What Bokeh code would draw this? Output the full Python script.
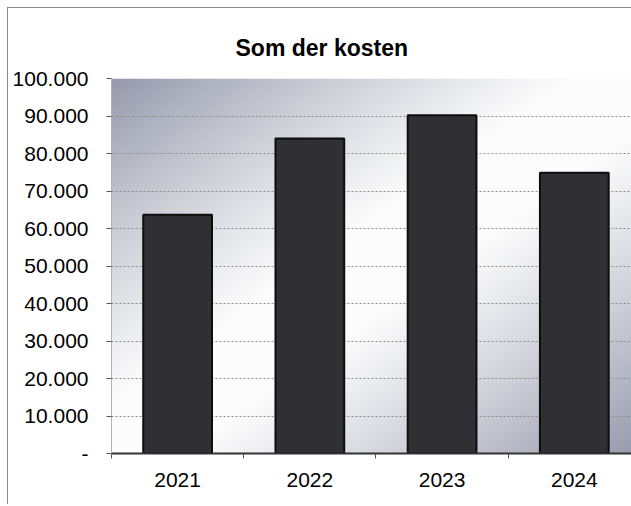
import numpy as np
from bokeh.plotting import figure
from bokeh.models import (Range1d, FixedTicker, LinearAxis, Title, ColumnDataSource, Grid)
from bokeh.embed import file_html
from bokeh.resources import INLINE

# ---- data ----
years = ["2021", "2022", "2023", "2024"]
costs = [63700, 84000, 90200, 74900]
y_ticks = [0, 10000, 20000, 30000, 40000, 50000, 60000, 70000, 80000, 90000, 100000]
y_labels = ["-", "10.000", "20.000", "30.000", "40.000", "50.000",
            "60.000", "70.000", "80.000", "90.000", "100.000"]
title_text = "Som der kosten"

FONT = "Liberation Sans"

ncat = len(years)
centers = [i + 0.5 for i in range(ncat)]
bounds = list(range(ncat + 1))
ymax = y_ticks[-1]

# the original chart is cut off slightly at the right edge
p = figure(width=624, height=497, x_range=Range1d(0, ncat - 0.06),
           y_range=Range1d(0, ymax), output_backend="svg",
           toolbar_location=None, x_axis_location=None, y_axis_location=None,
           min_border_left=103, min_border_right=0, min_border_top=70,
           min_border_bottom=52)
p.grid.visible = False
p.background_fill_color = "white"
p.border_fill_color = "white"
p.outline_line_color = None
p.styles = {"border-left": "1px solid #8a8a8a", "border-top": "1px solid #8a8a8a",
            "box-sizing": "border-box", "margin-left": "7px", "margin-top": "7px"}

# gradient background (styling only)
n = 160
gx, gy = np.meshgrid(np.linspace(0, 1, n), np.linspace(0, 1, n))
t = (gx + (1 - gy)) / 2.0          # 0 top-left -> 1 bottom-right
w = 1 - np.abs(2 * t - 1) ** 1.2
w = np.clip(w * 1.1, 0, 1)
c0 = np.array([150, 154, 172])
rgb = c0[None, None, :] * (1 - w[..., None]) + 252 * w[..., None]
img = np.zeros((n, n), dtype=np.uint32)
view = img.view(dtype=np.uint8).reshape((n, n, 4))
view[..., 0] = rgb[..., 0].astype(np.uint8)
view[..., 1] = rgb[..., 1].astype(np.uint8)
view[..., 2] = rgb[..., 2].astype(np.uint8)
view[..., 3] = 255
p.image_rgba(image=[img], x=0, y=0, dw=ncat, dh=ymax, level="image")

# y axis
yaxis = LinearAxis(ticker=FixedTicker(ticks=y_ticks))
yaxis.major_label_overrides = {tk: lb for tk, lb in zip(y_ticks, y_labels)}
yaxis.major_label_text_font = FONT
yaxis.major_label_text_font_size = "21px"
yaxis.major_label_text_color = "black"
yaxis.major_tick_out = 5
yaxis.major_tick_in = 0
yaxis.minor_tick_line_color = None
yaxis.major_tick_line_color = "#555555"
yaxis.axis_line_color = "#b0b0b0"
yaxis.major_label_standoff = 18
p.add_layout(yaxis, "left")

# x boundary ticks (between categories)
tick_axis = LinearAxis(ticker=FixedTicker(ticks=bounds))
tick_axis.major_label_overrides = {b: "" for b in bounds}
tick_axis.major_label_text_font_size = "1px"
tick_axis.major_label_standoff = 0
tick_axis.major_tick_out = 5
tick_axis.major_tick_in = 0
tick_axis.minor_tick_line_color = None
tick_axis.major_tick_line_color = "#555555"
tick_axis.axis_line_color = "#333333"
tick_axis.axis_line_width = 2
p.add_layout(tick_axis, "below")

xaxis = LinearAxis(ticker=FixedTicker(ticks=centers))
xaxis.major_label_overrides = {c: y for c, y in zip(centers, years)}
xaxis.axis_line_color = None
xaxis.major_tick_line_color = None
xaxis.minor_tick_line_color = None
xaxis.major_label_text_font = FONT
xaxis.major_label_text_font_size = "21px"
xaxis.major_label_text_color = "black"
xaxis.major_label_standoff = 8
p.add_layout(xaxis, "below")

g = Grid(dimension=1, ticker=FixedTicker(ticks=y_ticks))
g.grid_line_color = "#8c8c8c"
g.grid_line_dash = "2 2"
g.grid_line_width = 1
p.add_layout(g)

src = ColumnDataSource(dict(x=centers, year=years, cost=costs))
p.vbar(x="x", top="cost", width=0.52, source=src,
       fill_color="#2f2f34", line_color="#0e0e0e", line_width=2)

title = Title(text=title_text, align="left", offset=124,
              text_font=FONT, text_font_size="23px", text_font_style="bold",
              text_color="black", standoff=36)
p.add_layout(title, "above")

open("out.html", "w").write(file_html(p, INLINE))
